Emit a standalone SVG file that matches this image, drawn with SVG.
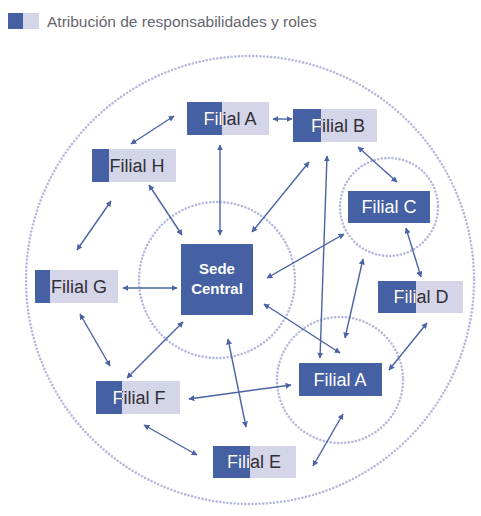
<svg xmlns="http://www.w3.org/2000/svg" width="481" height="516" viewBox="0 0 481 516">
<style>
.bg{fill:#ffffff}
.ring{fill:none;stroke:#b5b8dd;stroke-width:2.6;stroke-dasharray:0 3.6;stroke-linecap:round}
.dk{fill:#4560a3}
.lt{fill:#d5d5ea}
.t{font-family:"Liberation Sans",Arial,sans-serif;font-size:18px;text-anchor:middle}
.td{fill:#2f2f35}
.tw{fill:#ffffff}
.sede{font-family:"Liberation Sans",Arial,sans-serif;font-size:15px;font-weight:bold;fill:#ffffff;text-anchor:middle}
.leg{font-family:"Liberation Sans",Arial,sans-serif;font-size:15.5px;fill:#66666e}
.c{stroke:#4a63a6;stroke-width:1.4;fill:none;marker-start:url(#ah);marker-end:url(#ah)}
</style>
<defs>
<marker id="ah" viewBox="0 0 10 10" refX="9" refY="5" markerWidth="6" markerHeight="6" markerUnits="userSpaceOnUse" orient="auto-start-reverse">
<path d="M0,0 L10,5 L0,10 z" fill="#4a63a6"/>
</marker>
<clipPath id="cA"><rect x="187" y="102" width="35" height="33"/></clipPath>
<clipPath id="cB"><rect x="293" y="109" width="28" height="33"/></clipPath>
<clipPath id="cH"><rect x="92" y="149" width="17" height="33"/></clipPath>
<clipPath id="cD"><rect x="378" y="281" width="38" height="32"/></clipPath>
<clipPath id="cG"><rect x="35" y="270" width="15" height="33"/></clipPath>
<clipPath id="cF"><rect x="96" y="381" width="26" height="33"/></clipPath>
<clipPath id="cE"><rect x="213" y="446" width="37" height="32"/></clipPath>
</defs>
<rect class="bg" x="0" y="0" width="481" height="516"/>

<g id="legend">
<rect class="dk" x="8" y="13" width="15" height="16"/>
<rect class="lt" x="23" y="13" width="16" height="16"/>
<text class="leg" x="47" y="27">Atribución de responsabilidades y roles</text>
</g>

<g id="rings">
<circle class="ring" cx="250" cy="280" r="224"/>
<circle class="ring" cx="217" cy="280" r="78"/>
<circle class="ring" cx="389" cy="207" r="49"/>
<circle class="ring" cx="340" cy="380" r="63"/>
</g>

<g id="connectors">
<line class="c" x1="131" y1="144" x2="174" y2="116"/>
<line class="c" x1="273" y1="119" x2="292" y2="119"/>
<line class="c" x1="220" y1="145" x2="220" y2="235"/>
<line class="c" x1="309" y1="162" x2="252" y2="232"/>
<line class="c" x1="327" y1="156" x2="320" y2="358"/>
<line class="c" x1="264" y1="304" x2="340" y2="353"/>
<line class="c" x1="358" y1="147" x2="397" y2="182"/>
<line class="c" x1="149" y1="185" x2="182" y2="235"/>
<line class="c" x1="111" y1="201" x2="77" y2="250"/>
<line class="c" x1="123" y1="288" x2="177" y2="288"/>
<line class="c" x1="267" y1="278" x2="344" y2="234"/>
<line class="c" x1="406" y1="228" x2="421" y2="277"/>
<line class="c" x1="363" y1="259" x2="345" y2="338"/>
<line class="c" x1="427" y1="323" x2="389" y2="370"/>
<line class="c" x1="80" y1="314" x2="110" y2="366"/>
<line class="c" x1="183" y1="322" x2="127" y2="378"/>
<line class="c" x1="228" y1="339" x2="246" y2="427"/>
<line class="c" x1="189" y1="399" x2="291" y2="385"/>
<line class="c" x1="144" y1="425" x2="197" y2="455"/>
<line class="c" x1="313" y1="466" x2="343" y2="414"/>
</g>

<g id="sede">
<rect class="dk" x="181" y="244" width="72" height="71"/>
<text class="sede" x="217" y="274">Sede</text>
<text class="sede" x="217" y="294">Central</text>
</g>

<g id="filial-a-top">
<rect class="lt" x="187" y="102" width="82" height="33"/>
<rect class="dk" x="187" y="102" width="35" height="33"/>
<text class="t td" x="230" y="125">Filial A</text>
<text class="t tw" x="230" y="125" clip-path="url(#cA)">Filial A</text>
</g>

<g id="filial-b">
<rect class="lt" x="293" y="109" width="84" height="33"/>
<rect class="dk" x="293" y="109" width="28" height="33"/>
<text class="t td" x="338" y="132">Filial B</text>
<text class="t tw" x="338" y="132" clip-path="url(#cB)">Filial B</text>
</g>

<g id="filial-h">
<rect class="lt" x="92" y="149" width="84" height="33"/>
<rect class="dk" x="92" y="149" width="17" height="33"/>
<text class="t td" x="137" y="172">Filial H</text>
<text class="t tw" x="137" y="172" clip-path="url(#cH)">Filial H</text>
</g>

<g id="filial-c">
<rect class="dk" x="348" y="191" width="82" height="32"/>
<text class="t tw" x="389" y="213">Filial C</text>
</g>

<g id="filial-d">
<rect class="lt" x="378" y="281" width="85" height="32"/>
<rect class="dk" x="378" y="281" width="38" height="32"/>
<text class="t td" x="421" y="303">Filial D</text>
<text class="t tw" x="421" y="303" clip-path="url(#cD)">Filial D</text>
</g>

<g id="filial-g">
<rect class="lt" x="35" y="270" width="83" height="33"/>
<rect class="dk" x="35" y="270" width="15" height="33"/>
<text class="t td" x="79" y="293">Filial G</text>
<text class="t tw" x="79" y="293" clip-path="url(#cG)">Filial G</text>
</g>

<g id="filial-a-bottom">
<rect class="dk" x="299" y="363" width="83" height="33"/>
<text class="t tw" x="340" y="386">Filial A</text>
</g>

<g id="filial-f">
<rect class="lt" x="96" y="381" width="84" height="33"/>
<rect class="dk" x="96" y="381" width="26" height="33"/>
<text class="t td" x="139" y="404">Filial F</text>
<text class="t tw" x="139" y="404" clip-path="url(#cF)">Filial F</text>
</g>

<g id="filial-e">
<rect class="lt" x="213" y="446" width="83" height="32"/>
<rect class="dk" x="213" y="446" width="37" height="32"/>
<text class="t td" x="254" y="468">Filial E</text>
<text class="t tw" x="254" y="468" clip-path="url(#cE)">Filial E</text>
</g>
</svg>
